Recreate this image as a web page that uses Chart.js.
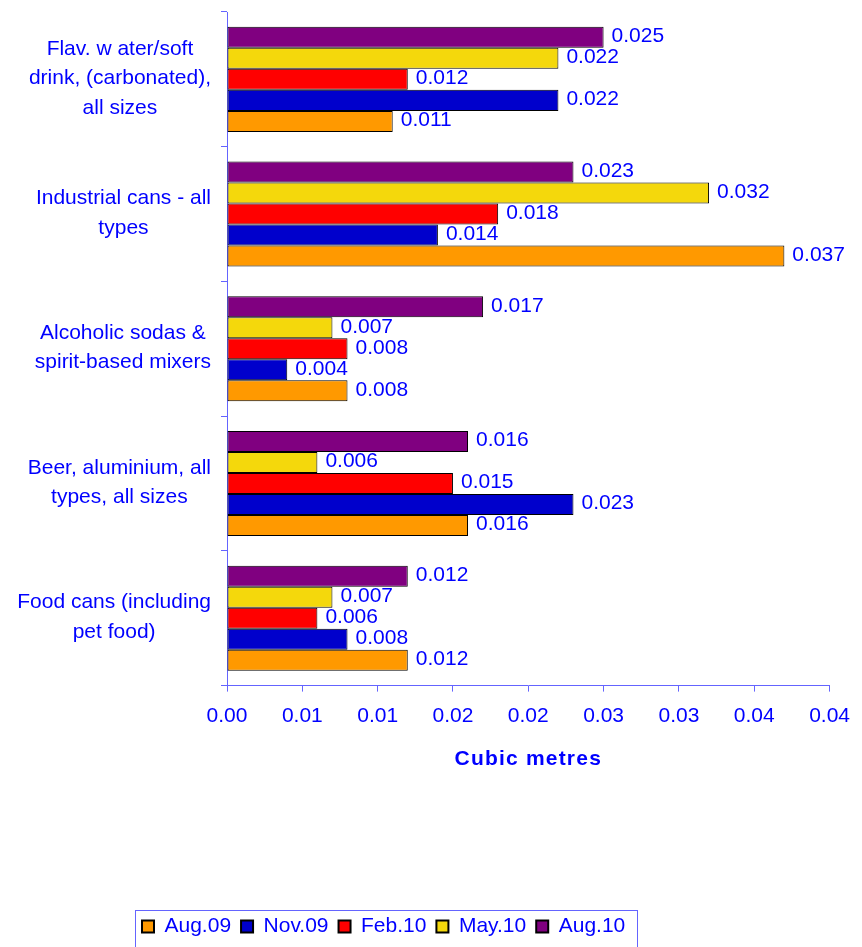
<!DOCTYPE html>
<html>
<head>
<meta charset="utf-8">
<title>Cubic metres by can type</title>
<script src="https://cdn.jsdelivr.net/npm/chart.js@4.4.1/dist/chart.umd.min.js"></script>
<style>
  html, body { margin: 0; padding: 0; background: #fff; }
  canvas { display: block; }
</style>
</head>
<body>
<canvas id="chart" width="862" height="947"></canvas>
<script>
// Categories, top to bottom (each entry is the lines of the axis label)
const categories = [
  ["Flav. w ater/soft", "drink, (carbonated),", "all sizes"],
  ["Industrial cans - all", "types"],
  ["Alcoholic sodas &", "spirit-based mixers"],
  ["Beer, aluminium, all", "types, all sizes"],
  ["Food cans (including", "pet food)"]
];

const seriesNames = ["Aug.09", "Nov.09", "Feb.10", "May.10", "Aug.10"];

// Cubic metres, one value per category
const aug09 = [0.011, 0.037, 0.008, 0.016, 0.012];
const nov09 = [0.022, 0.014, 0.004, 0.023, 0.008];
const feb10 = [0.012, 0.018, 0.008, 0.015, 0.006];
const may10 = [0.022, 0.032, 0.007, 0.006, 0.007];
const aug10 = [0.025, 0.023, 0.017, 0.016, 0.012];

// x axis tick labels as printed (0 to 0.04 every 0.005, two decimals)
const xTickLabels = ["0.00", "0.01", "0.01", "0.02", "0.02", "0.03", "0.03", "0.04", "0.04"];

const BLUE = "#0000ff";
const AXIS = "#6464ff";
const FONT = "'Liberation Sans', Arial, sans-serif";
const seriesColors = {
    "Aug.09": "#ff9900",
    "Nov.09": "#0000cc",
    "Feb.10": "#ff0000",
    "May.10": "#f4d80c",
    "Aug.10": "#800080"
};
const seriesData = { "Aug.09": aug09, "Nov.09": nov09, "Feb.10": feb10, "May.10": may10, "Aug.10": aug10 };

// Excel draws the last series on top inside each group
const drawOrder = seriesNames.slice().reverse();

Chart.defaults.font.family = FONT;

// Multi-line category labels, each block centred on its own widest line
const categoryLabels = {
    id: "categoryLabels",
    afterDraw(chart) {
        const { ctx, chartArea, scales: { y } } = chart;
        ctx.save();
        ctx.font = "21px " + FONT;
        ctx.fillStyle = BLUE;
        ctx.textAlign = "center";
        ctx.textBaseline = "middle";
        categories.forEach((lines, i) => {
            const widest = Math.max(...lines.map(l => ctx.measureText(l).width));
            const cx = chartArea.left - 16 - widest / 2;
            const cy = y.getPixelForTick(i) - 1;
            lines.forEach((line, j) => {
                ctx.fillText(line, cx, cy + (j - (lines.length - 1) / 2) * 29.5);
            });
        });
        ctx.restore();
    }
};

// Value printed to the right of every bar
const valueLabels = {
    id: "valueLabels",
    afterDatasetsDraw(chart) {
        const { ctx } = chart;
        ctx.save();
        ctx.font = "21px " + FONT;
        ctx.fillStyle = BLUE;
        ctx.textAlign = "left";
        ctx.textBaseline = "middle";
        chart.data.datasets.forEach((ds, di) => {
            chart.getDatasetMeta(di).data.forEach((bar, i) => {
                ctx.fillText(ds.data[i].toFixed(3), bar.x + 8, bar.y - 1);
            });
        });
        ctx.restore();
    }
};

// Legend sits left of centre with a thin frame; axis title is letter-spaced
const legendFrame = {
    id: "legendFrame",
    afterLayout(chart) {
        const lg = chart.legend;
        const w = lg.right - lg.left;
        lg.left = 132;
        lg.right = 132 + w;

        const xs = chart.scales.x;
        if (!xs._spaced) {
            const orig = xs.drawTitle.bind(xs);
            xs.drawTitle = function () {
                chart.ctx.save();
                chart.ctx.letterSpacing = "1.2px";
                orig();
                chart.ctx.restore();
            };
            xs._spaced = true;
        }
    },
    afterDraw(chart) {
        const { ctx } = chart;
        const boxes = chart.legend.legendHitBoxes;
        if (!boxes || !boxes.length) return;
        const first = boxes[0];
        const last = boxes[boxes.length - 1];
        const x0 = Math.round(first.left - 7);
        const x1 = Math.round(last.left + last.width + 12);
        const y0 = Math.round(first.top + first.height / 2 - 17);
        ctx.save();
        ctx.strokeStyle = AXIS;
        ctx.lineWidth = 1;
        ctx.strokeRect(x0 + 0.5, y0 + 0.5, x1 - x0, chart.height - y0 + 10);
        ctx.restore();
    }
};

new Chart(document.getElementById("chart"), {
    type: "bar",
    data: {
        labels: categories.map(c => c.join(" ")),
        datasets: drawOrder.map(name => ({
            label: name,
            data: seriesData[name],
            backgroundColor: seriesColors[name],
            borderColor: "#000000",
            borderWidth: 1,
            borderSkipped: false
        }))
    },
    options: {
        indexAxis: "y",
        responsive: false,
        animation: false,
        devicePixelRatio: 1,
        layout: { padding: { top: 12, right: 27, bottom: 0, left: 0 } },
        datasets: { bar: { categoryPercentage: 0.78, barPercentage: 1 } },
        scales: {
            x: {
                min: 0,
                max: 0.04,
                ticks: {
                    stepSize: 0.005,
                    color: BLUE,
                    font: { size: 21 },
                    padding: 12,
                    autoSkip: false,
                    maxRotation: 0,
                    callback: (v, i) => xTickLabels[i]
                },
                grid: { drawOnChartArea: false, tickLength: 6, color: AXIS },
                border: { color: AXIS },
                title: {
                    display: true,
                    text: "Cubic metres",
                    color: BLUE,
                    font: { size: 21, weight: "bold" },
                    padding: { top: 6, bottom: 134 }
                }
            },
            y: {
                ticks: { display: false },
                grid: { offset: true, drawOnChartArea: false, tickLength: 6, color: AXIS },
                border: { color: AXIS },
                afterFit: scale => { scale.width = 227; }
            }
        },
        plugins: {
            legend: {
                position: "bottom",
                align: "start",
                reverse: true,
                labels: {
                    color: BLUE,
                    font: { size: 21 },
                    boxWidth: 12,
                    boxHeight: 12,
                    padding: 10,
                    generateLabels: chart =>
                        Chart.defaults.plugins.legend.labels.generateLabels(chart)
                            .map(item => Object.assign(item, { lineWidth: 2, strokeStyle: "#000000" }))
                }
            },
            tooltip: { enabled: false }
        }
    },
    plugins: [categoryLabels, valueLabels, legendFrame]
});
</script>
</body>
</html>
